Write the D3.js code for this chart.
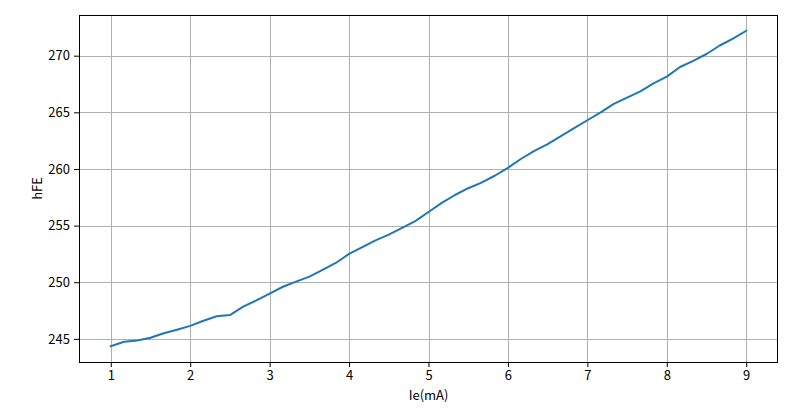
<!DOCTYPE html>
<html>
<head>
<meta charset="utf-8">
<script src="https://cdn.jsdelivr.net/npm/d3@7"></script>
<style>
  html, body { margin: 0; padding: 0; background: #fff; }
  svg text { font-family: "Noto Sans CJK SC", "DejaVu Sans", sans-serif; }
</style>
</head>
<body>
<svg id="chart" width="800" height="409"></svg>
<script>
const ieValues = [1.000, 1.167, 1.333, 1.500, 1.667, 1.833, 2.000, 2.167, 2.333, 2.500,
  2.667, 2.833, 3.000, 3.167, 3.333, 3.500, 3.667, 3.833, 4.000, 4.167,
  4.333, 4.500, 4.667, 4.833, 5.000, 5.167, 5.333, 5.500, 5.667, 5.833,
  6.000, 6.167, 6.333, 6.500, 6.667, 6.833, 7.000, 7.167, 7.333, 7.500,
  7.667, 7.833, 8.000, 8.167, 8.333, 8.500, 8.667, 8.833, 9.000];
const hfeValues = [244.35, 244.75, 244.85, 245.1, 245.5, 245.8, 246.15, 246.6, 247.0, 247.1,
  247.85, 248.4, 249.0, 249.6, 250.05, 250.5, 251.1, 251.7, 252.5, 253.1,
  253.7, 254.2, 254.8, 255.4, 256.2, 257.0, 257.7, 258.3, 258.8, 259.4,
  260.1, 260.9, 261.6, 262.2, 262.9, 263.6, 264.3, 265.0, 265.75, 266.3,
  266.85, 267.55, 268.15, 269.0, 269.55, 270.15, 270.9, 271.5, 272.2];
const xTicks = [1, 2, 3, 4, 5, 6, 7, 8, 9];
const yTicks = [245, 250, 255, 260, 265, 270];
const xLabel = "Ie(mA)";
const yLabel = "hFE";

const svg = d3.select("#chart");
const L = 79, R = 778, T = 15, B = 362;

const xmin = d3.min(ieValues), xmax = d3.max(ieValues);
const ymin = d3.min(hfeValues), ymax = d3.max(hfeValues);
const xm = (xmax - xmin) * 0.05, ym = (ymax - ymin) * 0.05;
const x = d3.scaleLinear().domain([xmin - xm, xmax + xm]).range([L, R]);
const y = d3.scaleLinear().domain([ymin - ym, ymax + ym]).range([B, T]);

// grid
const grid = svg.append("g");
grid.selectAll(".gx").data(xTicks).enter().append("line")
  .attr("x1", d => Math.round(x(d)) + 0.5).attr("x2", d => Math.round(x(d)) + 0.5)
  .attr("y1", T).attr("y2", B)
  .attr("stroke", "#b0b0b0").attr("stroke-width", 1);
grid.selectAll(".gy").data(yTicks).enter().append("line")
  .attr("y1", d => Math.round(y(d)) + 0.5).attr("y2", d => Math.round(y(d)) + 0.5)
  .attr("x1", L).attr("x2", R)
  .attr("stroke", "#b0b0b0").attr("stroke-width", 1);

// line
const line = d3.line().x((d, i) => x(ieValues[i])).y(d => y(d));
svg.append("path").datum(hfeValues)
  .attr("d", line)
  .attr("fill", "none")
  .attr("stroke", "#1f77b4")
  .attr("stroke-width", 2)
  .attr("stroke-linejoin", "round")
  .attr("stroke-linecap", "square");

// axes
const xAxis = d3.axisBottom(x).tickValues(xTicks).tickSize(5).tickPadding(4).tickFormat(d3.format("d"));
const yAxis = d3.axisLeft(y).tickValues(yTicks).tickSize(5).tickPadding(4).tickFormat(d3.format("d"));
const gx = svg.append("g").attr("transform", `translate(0,${B})`).call(xAxis);
const gy = svg.append("g").attr("transform", `translate(${L},0)`).call(yAxis);
[gx, gy].forEach(g => {
  g.select(".domain").remove();
  g.selectAll("line").attr("stroke", "#000").attr("stroke-width", 1);
  g.selectAll("text").attr("font-size", 13).attr("fill", "#000")
    .style("font-family", '"Noto Sans CJK SC", sans-serif');
});

// frame
svg.append("rect").attr("x", L + 0.5).attr("y", T + 0.5)
  .attr("width", R - L - 1).attr("height", B - T)
  .attr("fill", "none").attr("stroke", "#000").attr("stroke-width", 1);

svg.append("text").attr("x", (L + R) / 2).attr("y", 400)
  .attr("text-anchor", "middle").attr("font-size", 13).text(xLabel);
svg.append("text").attr("transform", `translate(42,${(T + B) / 2}) rotate(-90)`)
  .attr("text-anchor", "middle").attr("font-size", 13).text(yLabel);
</script>
</body>
</html>
